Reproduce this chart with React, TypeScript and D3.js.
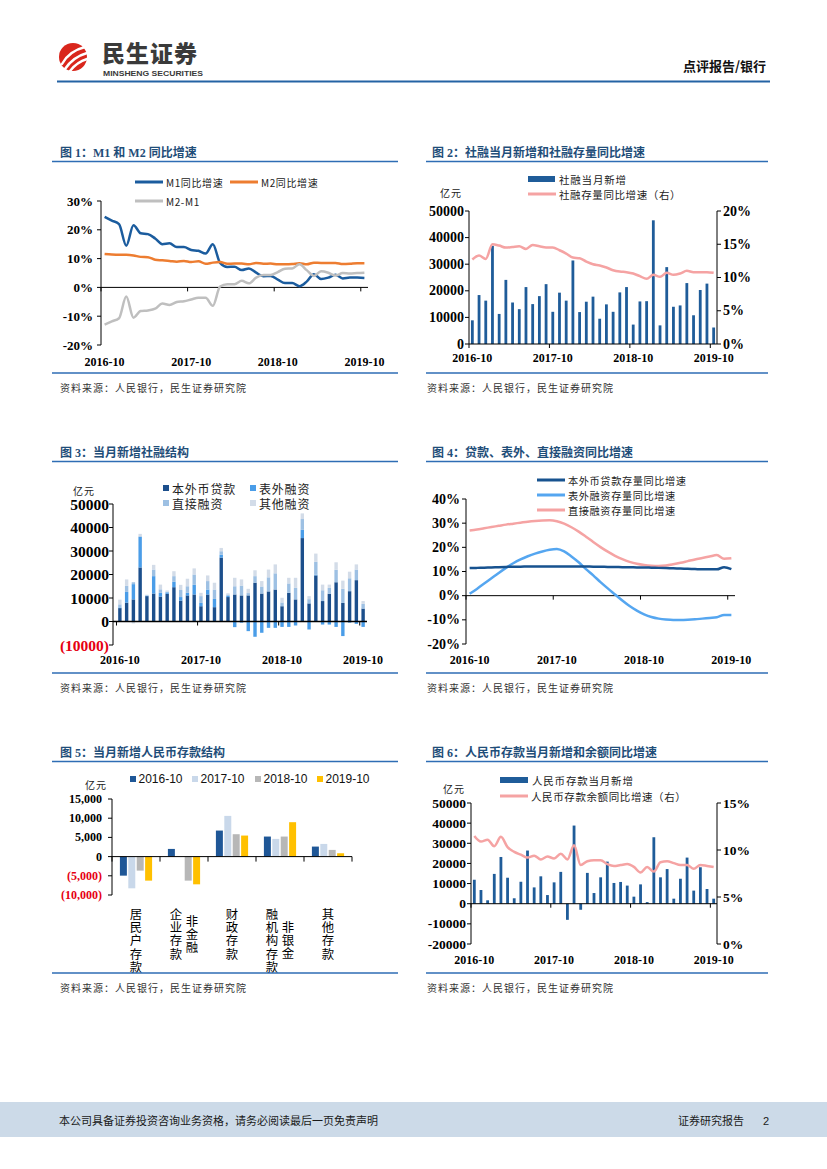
import * as d3 from 'd3';
import React, { useEffect, useRef } from 'react';

// ---- shared categories ----
const months = [
  '2016-10', '2016-11', '2016-12', '2017-01', '2017-02', '2017-03', '2017-04', '2017-05', '2017-06', '2017-07', '2017-08', '2017-09',
  '2017-10', '2017-11', '2017-12', '2018-01', '2018-02', '2018-03', '2018-04', '2018-05', '2018-06', '2018-07', '2018-08', '2018-09',
  '2018-10', '2018-11', '2018-12', '2019-01', '2019-02', '2019-03', '2019-04', '2019-05', '2019-06', '2019-07', '2019-08', '2019-09',
  '2019-10',
];
const tickMonths = ['2016-10', '2017-10', '2018-10', '2019-10'];

// ---- chart 1: M1 / M2 yoy (%) ----
const m1Yoy = [24.5, 23.2, 22.0, 14.5, 21.6, 18.8, 18.5, 17.0, 15.0, 15.3, 14.0, 14.0, 13.0, 12.7, 11.8, 15.0, 8.5, 7.1, 7.2, 6.0, 6.6, 5.1, 3.9, 4.0, 2.7, 1.5, 1.5, 0.4, 2.0, 4.6, 2.9, 3.4, 4.4, 3.1, 3.4, 3.4, 3.3];
const m2Yoy = [11.6, 11.4, 11.3, 11.3, 11.1, 10.6, 10.5, 9.6, 9.4, 9.2, 8.9, 9.2, 8.8, 9.1, 8.2, 8.6, 8.8, 8.2, 8.3, 8.3, 8.0, 8.5, 8.2, 8.3, 8.0, 8.0, 8.1, 8.4, 8.0, 8.6, 8.5, 8.5, 8.5, 8.1, 8.2, 8.4, 8.4];
const m2m1Gap = [-12.9, -11.8, -10.7, -3.2, -10.5, -8.2, -8.0, -7.4, -5.6, -6.1, -5.1, -4.8, -4.2, -3.6, -3.6, -6.4, 0.3, 1.1, 1.1, 2.3, 1.4, 3.4, 4.3, 4.3, 5.3, 6.5, 6.6, 8.0, 6.0, 4.0, 5.6, 5.1, 4.1, 5.0, 4.8, 5.0, 5.1];

// ---- chart 2: TSF monthly new (亿元) and stock yoy (%) ----
const tsfNew = [8900, 18400, 16300, 36900, 11300, 24100, 15600, 13100, 21400, 15000, 18000, 22500, 12100, 19300, 16300, 31400, 12000, 15900, 17800, 9500, 14900, 12100, 19400, 21400, 7300, 16000, 16100, 46500, 7000, 28900, 14000, 14500, 22900, 10800, 20300, 22700, 6200];
const tsfYoy = [12.7, 13.3, 12.8, 15.0, 14.8, 14.5, 14.6, 14.7, 14.3, 14.9, 14.7, 14.5, 14.5, 14.1, 13.6, 13.0, 12.9, 12.4, 12.0, 11.8, 11.5, 11.1, 10.9, 10.8, 10.6, 10.2, 9.8, 10.4, 10.1, 10.7, 10.4, 10.6, 11.0, 10.8, 10.8, 10.8, 10.7];

// ---- chart 3: TSF structure (亿元) ----
const loanNew = [5700, 8000, 9400, 23000, 10800, 11900, 10600, 11800, 14600, 8900, 11100, 11500, 6500, 11500, 6100, 27200, 10400, 11500, 11100, 11100, 16500, 11900, 12800, 13600, 6500, 12200, 9400, 35500, 7700, 19600, 8700, 11800, 16700, 7900, 12900, 17600, 5500];
const offBalanceNew = [300, 4600, 6500, 13000, 200, 7400, 1600, 600, 2300, 1500, 1100, 4100, 1400, 2100, 3500, 1200, 500, -2400, -500, -4100, -6500, -4800, -2700, -2700, -2300, -2300, -1700, 3500, -3400, 300, -1300, -1300, -2300, -6200, -500, -1000, -2300];
const directNew = [1300, 2600, 800, 300, 200, 2800, 1500, 300, 2400, 3000, 2800, 4400, 2900, 3600, 4000, 1500, 600, 3500, 4200, 1000, 2800, 3000, 6000, 6900, 1600, 4000, 4900, 4600, 1800, 5500, 4600, 2500, 5300, 6000, 5500, 4500, 2000];
const otherNew = [2000, 2700, -800, 1000, 200, 2000, 2000, 500, 2100, 2200, 3200, 2600, 1400, 2400, 2900, 1400, 500, 3600, 2600, 1800, 2500, 2300, 3300, 3800, 2000, 2400, 4300, 2400, 1300, 3500, 2400, 1400, 3200, 3500, 2800, 2200, 1200];

// ---- chart 4: stock yoy (%) ----
const loanStockYoy = [11.4, 11.5, 11.6, 11.7, 11.8, 11.9, 12.0, 12.0, 12.1, 12.1, 12.1, 12.1, 12.1, 12.1, 12.1, 12.1, 12.1, 12.0, 12.0, 11.9, 11.9, 11.8, 11.8, 11.7, 11.7, 11.6, 11.5, 11.4, 11.3, 11.2, 11.1, 11.0, 10.9, 10.9, 10.9, 11.8, 11.0];
const offStockYoy = [0.8, 2.8, 5.0, 7.2, 9.4, 11.5, 13.4, 15.0, 16.3, 17.4, 18.3, 19.0, 19.3, 18.3, 16.2, 13.8, 11.0, 8.4, 5.6, 3.0, 0.5, -2.0, -4.3, -6.2, -7.7, -8.8, -9.5, -9.9, -10.1, -10.1, -10.0, -9.8, -9.5, -9.2, -8.9, -8.0, -8.0];
const directStockYoy = [27.0, 27.4, 27.9, 28.4, 28.9, 29.4, 29.8, 30.2, 30.6, 30.9, 31.1, 31.2, 30.8, 29.8, 28.3, 26.5, 24.4, 22.2, 20.1, 18.2, 16.5, 15.1, 14.0, 13.2, 12.7, 12.4, 12.3, 12.5, 13.0, 13.6, 14.3, 15.0, 15.6, 16.2, 16.8, 15.3, 15.5];

// ---- chart 5: new RMB deposits by type (亿元) ----
const depositTypes = ['居民户存款', '非金融企业存款', '财政存款', '非银金融机构存款', '其他存款'];
const depositTypeColumns = [['居民户存款'], ['非金融', '企业存款'], ['财政存款'], ['非银金', '融机构存款'], ['其他存款']];
const depositYears = ['2016-10', '2017-10', '2018-10', '2019-10'];
const deposit2016 = [-4960, 2000, 6780, 5220, 2610];
const deposit2017 = [-8260, 0, 10600, 4610, 3300];
const deposit2018 = [-3650, -6260, 5830, 5220, 1740];
const deposit2019 = [-6260, -7220, 5480, 8960, 870];

// ---- chart 6: RMB deposits monthly new (亿元) and yoy (%) ----
const depNew = [11900, 6800, 1700, 14800, 23200, 12900, 2700, 10900, 26400, 8100, 13600, 4300, 10600, 15800, -8000, 38800, -3000, 15300, 5300, 13100, 20900, 10300, 10800, 9000, 3500, 9600, 800, 33000, 13100, 17200, 2500, 12400, 22900, 6500, 18100, 7300, 2500];
const depYoy = [11.5, 10.9, 11.1, 10.4, 11.4, 10.3, 9.8, 9.5, 9.2, 9.4, 9.0, 9.3, 9.1, 9.6, 9.0, 10.5, 8.4, 8.8, 8.9, 8.9, 8.5, 8.3, 8.4, 8.5, 8.2, 7.6, 8.2, 7.7, 8.7, 8.8, 8.6, 8.4, 8.4, 8.0, 8.4, 8.3, 8.2];

const FONT_NUM = "'Liberation Serif', 'Times New Roman', serif";
const FONT_CJK = "'Noto Sans CJK SC', 'Noto Sans', sans-serif";
const FONT_TITLE = "'Liberation Serif', 'Noto Sans CJK SC', serif";
const FONT_SANS = "'Liberation Sans', Arial, sans-serif";

const BLUE = '#1F5C99';
const PINK = '#F5A3A3';
const RED = '#E60012';

type Sel = d3.Selection<any, unknown, null, undefined>;
type TxtOpts = { size?: number; font?: string; weight?: string | number; fill?: string; anchor?: string; ls?: number; baseline?: string };

function txt(g: Sel, x: number, y: number, s: string, o: TxtOpts = {}) {
  return g.append('text')
    .attr('x', x)
    .attr('y', y)
    .attr('font-size', o.size ?? 10)
    .attr('font-family', o.font ?? FONT_CJK)
    .attr('font-weight', o.weight ?? 'normal')
    .attr('fill', o.fill ?? '#222')
    .attr('text-anchor', o.anchor ?? 'start')
    .attr('letter-spacing', o.ls ?? 0)
    .attr('dominant-baseline', o.baseline ?? 'auto')
    .text(s);
}

function hline(g: Sel, x1: number, x2: number, y: number, color = '#000', w = 1) {
  g.append('line').attr('x1', x1).attr('x2', x2).attr('y1', y).attr('y2', y)
    .attr('stroke', color).attr('stroke-width', w);
}

function vline(g: Sel, x: number, y1: number, y2: number, color = '#000', w = 1) {
  g.append('line').attr('x1', x).attr('x2', x).attr('y1', y1).attr('y2', y2)
    .attr('stroke', color).attr('stroke-width', w);
}

// title, rules and source note around each figure
function panel(svg: Sel, x0: number, x1: number, titleX: number, titleY: number, title: string) {
  txt(svg, titleX, titleY, title, { size: 12, font: FONT_TITLE, weight: 'bold', fill: '#1F4E79' });
  hline(svg, x0, x1, titleY + 5, '#2E6DB4', 1.6);
  hline(svg, x0, x1, titleY + 216.5, '#2E6DB4', 1.6);
  txt(svg, x0 + (x0 < 100 ? 8 : 1), titleY + 235.5, '资料来源：人民银行，民生证券研究院', { size: 10, ls: 1, fill: '#333' });
}

function yAxis(g: Sel, y: d3.ScaleLinear<number, number>, x: number, ticks: number[],
  fmt: (v: number) => string, side: 'left' | 'right', size: number, gap: number, redNeg = false) {
  const [r0, r1] = y.range();
  vline(g, x, r0, r1);
  const dir = side === 'left' ? -1 : 1;
  ticks.forEach(t => {
    hline(g, x, x + dir * 4, y(t));
    txt(g, x + dir * gap, y(t), fmt(t), {
      size, font: FONT_NUM, weight: 'bold', anchor: side === 'left' ? 'end' : 'start',
      baseline: 'central', fill: redNeg && t < 0 ? RED : '#000',
    });
  });
}

function xAxis(g: Sel, x: d3.ScaleBand<string>, y0: number, labelY: number, x0: number, x1: number, w = 1) {
  hline(g, x0, x1, y0, '#000', w);
  tickMonths.forEach(m => {
    const bx = x(m)!;
    vline(g, bx, y0, y0 + 4);
    txt(g, bx + x.step() / 2, labelY, m, { size: 12, font: FONT_NUM, weight: 'bold', anchor: 'middle', baseline: 'central', fill: '#000' });
  });
}

function drawLine(g: Sel, x: d3.ScaleBand<string>, y: d3.ScaleLinear<number, number>, values: number[], color: string, w = 2.5) {
  const line = d3.line<number>()
    .x((_, i) => x(months[i])! + x.step() / 2)
    .y(v => y(v))
    .curve(d3.curveMonotoneX);
  g.append('path').datum(values).attr('d', line).attr('fill', 'none')
    .attr('stroke', color).attr('stroke-width', w).attr('stroke-linejoin', 'round');
}

function drawBars(g: Sel, x: d3.ScaleBand<string>, y: d3.ScaleLinear<number, number>, values: number[], color: string, bw: number) {
  g.selectAll(null)
    .data(values)
    .join('rect')
    .attr('x', (_, i) => x(months[i])! + (x.step() - bw) / 2)
    .attr('y', v => y(Math.max(0, v)))
    .attr('width', bw)
    .attr('height', v => Math.abs(y(v) - y(0)))
    .attr('fill', color);
}

function legendLine(g: Sel, x: number, y: number, color: string, label: string, size = 10, w = 3) {
  hline(g, x, x + 28, y, color, w);
  txt(g, x + 31, y, label, { size, baseline: 'central', ls: 0.6 });
}

function drawHeader(svg: Sel) {
  const g = svg.append('g');
  g.append('circle').attr('cx', 73).attr('cy', 57).attr('r', 14).attr('fill', '#D9261C');
  ['M62,64 Q69,51 85,47', 'M65,69 Q73,57 87,53', 'M70,71 Q77,62 87,59'].forEach(d => {
    g.append('path').attr('d', d).attr('fill', 'none').attr('stroke', '#fff').attr('stroke-width', 2.4).attr('stroke-linecap', 'round');
  });
  txt(g, 102, 62, '民生证券', { size: 23, weight: 900, fill: '#3A3A3A', ls: 1 });
  txt(g, 103, 76, 'MINSHENG SECURITIES', { size: 8, weight: 'bold', font: FONT_SANS, fill: '#3A3A3A' })
    .attr('textLength', 100).attr('lengthAdjust', 'spacingAndGlyphs');
  txt(g, 766, 71, '点评报告/银行', { size: 13, weight: 'bold', fill: '#111', anchor: 'end' });
  hline(g, 57, 770, 81.5, '#2463A4', 2.2);
}

function drawFooter(svg: Sel) {
  const g = svg.append('g');
  g.append('rect').attr('x', 0).attr('y', 1102).attr('width', 827).attr('height', 35).attr('fill', '#CCDAE8');
  txt(g, 59, 1125, '本公司具备证券投资咨询业务资格，请务必阅读最后一页免责声明', { size: 11, fill: '#1A1A1A' });
  txt(g, 678, 1125, '证券研究报告', { size: 11, fill: '#1A1A1A' });
  txt(g, 763, 1125, '2', { size: 11, font: FONT_SANS, fill: '#1A1A1A' });
}

function drawChart1(svg: Sel) {
  const g = svg.append('g');
  panel(svg, 52, 398, 60, 156.5, '图 1：M1 和 M2 同比增速');
  const x = d3.scaleBand<string>().domain(months).range([101, 368]);
  const y = d3.scaleLinear().domain([-20, 30]).range([345, 201]);
  yAxis(g, y, 101, d3.range(-20, 31, 10), v => `${v}%`, 'left', 13, 8);
  xAxis(g, x, y(0), 362, 101, 368);
  drawLine(g, x, y, m1Yoy, '#1B5C9E');
  drawLine(g, x, y, m2Yoy, '#ED7D31');
  drawLine(g, x, y, m2m1Gap, '#BFBFBF');
  legendLine(g, 135, 182, '#1B5C9E', 'M1同比增速');
  legendLine(g, 230, 182, '#ED7D31', 'M2同比增速');
  legendLine(g, 135, 201, '#BFBFBF', 'M2-M1');
}

function drawChart2(svg: Sel) {
  const g = svg.append('g');
  panel(svg, 426, 768, 432, 156.5, '图 2：社融当月新增和社融存量同比增速');
  const x = d3.scaleBand<string>().domain(months).range([469, 717]);
  const y = d3.scaleLinear().domain([0, 50000]).range([344, 211]);
  const yr = d3.scaleLinear().domain([0, 20]).range([344, 211]);
  drawBars(g, x, y, tsfNew, BLUE, 2.8);
  yAxis(g, y, 469, d3.range(0, 50001, 10000), v => `${v}`, 'left', 14, 5);
  yAxis(g, yr, 717, d3.range(0, 21, 5), v => `${v}%`, 'right', 14, 6);
  xAxis(g, x, y(0), 358, 469, 717);
  drawLine(g, x, yr, tsfYoy, PINK);
  txt(g, 440, 192, '亿元', { size: 10, ls: 1, baseline: 'central' });
  g.append('rect').attr('x', 528).attr('y', 176).attr('width', 27).attr('height', 6).attr('fill', BLUE);
  txt(g, 559, 179, '社融当月新增', { size: 10.5, baseline: 'central', ls: 0.8 });
  legendLine(g, 528, 194, PINK, '社融存量同比增速（右）', 10.5);
}

function drawChart3(svg: Sel) {
  const g = svg.append('g');
  panel(svg, 52, 398, 60, 456.5, '图 3：当月新增社融结构');
  const x = d3.scaleBand<string>().domain(months).range([116.5, 366.5]);
  const y = d3.scaleLinear().domain([-10000, 50000]).range([645, 504]);
  const keys = ['loan', 'offBalance', 'direct', 'other'];
  const colors = ['#1C4F8C', '#4A9DE8', '#9DC0E3', '#D3DCE8'];
  const labels = ['本外币贷款', '表外融资', '直接融资', '其他融资'];
  const rows = months.map((m, i) => ({
    month: m, loan: loanNew[i], offBalance: offBalanceNew[i], direct: directNew[i], other: otherNew[i],
  }));
  const series = d3.stack<any>().keys(keys).offset(d3.stackOffsetDiverging)(rows);
  const bw = 3.4;
  series.forEach((s, k) => {
    g.selectAll(null)
      .data(s)
      .join('rect')
      .attr('x', d => x(d.data.month)! + (x.step() - bw) / 2)
      .attr('y', d => y(Math.max(d[0], d[1])))
      .attr('width', bw)
      .attr('height', d => Math.abs(y(d[0]) - y(d[1])))
      .attr('fill', colors[k]);
  });
  yAxis(g, y, 113, d3.range(-10000, 50001, 10000), v => (v < 0 ? `(${-v})` : `${v}`), 'left', 15.5, 4, true);
  xAxis(g, x, y(0), 660, 113, 367, 1.6);
  txt(g, 73, 490, '亿元', { size: 10, ls: 1, baseline: 'central' });
  labels.forEach((l, k) => {
    const lx = k % 2 === 0 ? 163 : 250;
    const ly = k < 2 ? 488 : 503;
    g.append('rect').attr('x', lx).attr('y', ly - 3).attr('width', 6).attr('height', 6).attr('fill', colors[k]);
    txt(g, lx + 9, ly, l, { size: 12, baseline: 'central', ls: 0.8 });
  });
}

function drawChart4(svg: Sel) {
  const g = svg.append('g');
  panel(svg, 426, 768, 432, 456.5, '图 4：贷款、表外、直接融资同比增速');
  const x = d3.scaleBand<string>().domain(months).range([466, 735]);
  const y = d3.scaleLinear().domain([-20, 40]).range([644, 499]);
  yAxis(g, y, 466, d3.range(-20, 41, 10), v => `${v}%`, 'left', 14, 6);
  xAxis(g, x, y(0), 660, 466, 735);
  drawLine(g, x, y, directStockYoy, PINK);
  drawLine(g, x, y, offStockYoy, '#55A6F0');
  drawLine(g, x, y, loanStockYoy, '#17528F');
  legendLine(g, 537, 480, '#17528F', '本外币贷款存量同比增速', 10.2);
  legendLine(g, 537, 495, '#55A6F0', '表外融资存量同比增速', 10.2);
  legendLine(g, 537, 510, PINK, '直接融资存量同比增速', 10.2);
}

function drawChart5(svg: Sel) {
  const g = svg.append('g');
  panel(svg, 52, 398, 60, 756.5, '图 5：当月新增人民币存款结构');
  const x0 = d3.scaleBand<string>().domain(depositTypes).range([112, 352]);
  const x1 = d3.scaleBand<string>().domain(depositYears).range([0, x0.bandwidth()]).paddingInner(0.17).paddingOuter(0.94);
  const y = d3.scaleLinear().domain([-10000, 15000]).range([895, 799]);
  const colors = ['#1F5797', '#C9D8EA', '#B7B7B7', '#FFC000'];
  const yearValues = [deposit2016, deposit2017, deposit2018, deposit2019];
  depositYears.forEach((yr, k) => {
    g.selectAll(null)
      .data(yearValues[k])
      .join('rect')
      .attr('x', (_, i) => x0(depositTypes[i])! + x1(yr)!)
      .attr('y', v => y(Math.max(0, v)))
      .attr('width', x1.bandwidth())
      .attr('height', v => Math.abs(y(v) - y(0)))
      .attr('fill', colors[k]);
  });
  yAxis(g, y, 112, d3.range(-10000, 15001, 5000), v => (v < 0 ? `(${d3.format(',')(-v)})` : d3.format(',')(v)), 'left', 12, 10, true);
  hline(g, 112, 352, y(0));
  depositTypes.forEach(c => vline(g, x0(c)!, y(0), y(0) + 5));
  vline(g, 352, y(0), y(0) + 5);
  // vertical category labels, one text per column, columns read right to left
  const step = 13.2;
  depositTypeColumns.forEach((cols, i) => {
    const cx = x0(depositTypes[i])! + x0.bandwidth() / 2;
    const maxLen = d3.max(cols, c => c.length)!;
    cols.forEach((col, j) => {
      const colX = cols.length === 1 ? cx : cx + (j === 0 ? 8 : -8);
      const top = 908 + ((maxLen - col.length) * step) / 2;
      txt(g, colX, top, col, { size: 12.4, fill: '#000', ls: step - 12.4 })
        .attr('writing-mode', 'vertical-rl')
        .attr('dominant-baseline', 'auto');
    });
  });
  txt(g, 85, 784, '亿元', { size: 10, ls: 1, baseline: 'central' });
  const legendX = [130, 192, 255, 317];
  depositYears.forEach((yr, k) => {
    g.append('rect').attr('x', legendX[k]).attr('y', 776).attr('width', 6).attr('height', 6).attr('fill', colors[k]);
    txt(g, legendX[k] + 8.5, 779, yr, { size: 12, font: FONT_SANS, baseline: 'central', fill: '#111' });
  });
}

function drawChart6(svg: Sel) {
  const g = svg.append('g');
  panel(svg, 426, 768, 432, 756.5, '图 6：人民币存款当月新增和余额同比增速');
  const x = d3.scaleBand<string>().domain(months).range([471, 717]);
  const y = d3.scaleLinear().domain([-20000, 50000]).range([944, 803]);
  const yr = d3.scaleLinear().domain([0, 15]).range([944, 803]);
  drawBars(g, x, y, depNew, BLUE, 2.8);
  yAxis(g, y, 471, d3.range(-20000, 50001, 10000), v => `${v}`, 'left', 13.5, 5);
  yAxis(g, yr, 717, d3.range(0, 16, 5), v => `${v}%`, 'right', 13.5, 6);
  xAxis(g, x, y(0), 960, 471, 717);
  drawLine(g, x, yr, depYoy, PINK);
  txt(g, 443, 788, '亿元', { size: 10, ls: 1, baseline: 'central' });
  g.append('rect').attr('x', 500).attr('y', 777).attr('width', 28).attr('height', 6).attr('fill', BLUE);
  txt(g, 532, 780, '人民币存款当月新增', { size: 10.5, baseline: 'central', ls: 0.8 });
  legendLine(g, 500, 796, PINK, '人民币存款余额同比增速（右）', 10.5);
}

const App: React.FC = () => {
  const svgRef = useRef<SVGSVGElement>(null);

  useEffect(() => {
    if (!svgRef.current) return;
    const svg = d3.select(svgRef.current);
    svg.selectAll('*').remove();
    drawHeader(svg);
    drawChart1(svg);
    drawChart2(svg);
    drawChart3(svg);
    drawChart4(svg);
    drawChart5(svg);
    drawChart6(svg);
    drawFooter(svg);
  }, []);

  return (
    <div style={{ position: 'absolute', left: 0, top: 0 }}>
      <svg ref={svgRef} width={827} height={1169} style={{ display: 'block', background: '#fff' }} />
    </div>
  );
};

export default App;
